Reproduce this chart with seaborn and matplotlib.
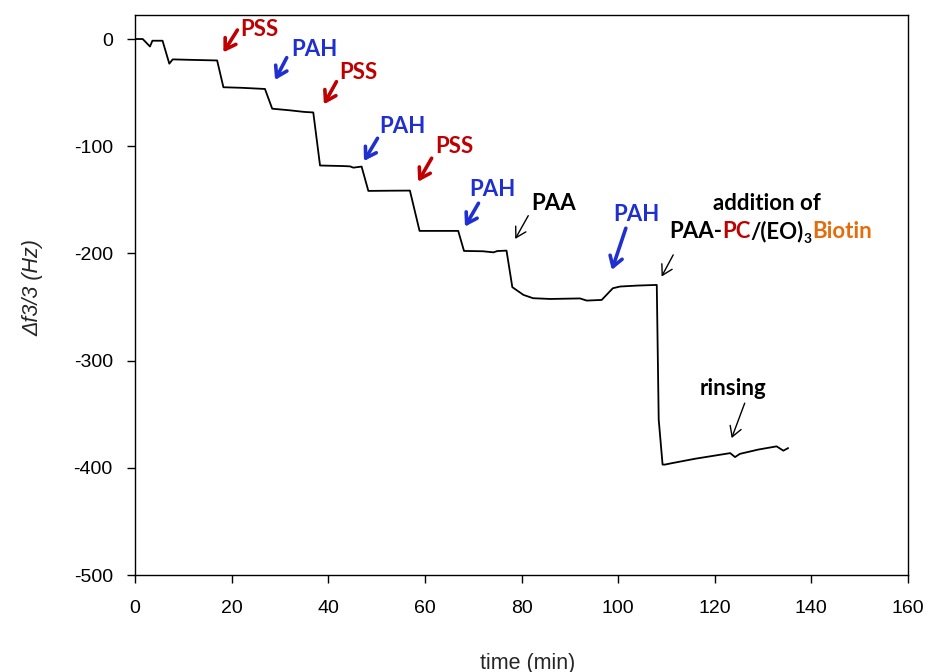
import matplotlib
matplotlib.use("Agg")
import matplotlib.pyplot as plt
import seaborn as sns
import pandas as pd

# ---- data ----
time_min = [0, 1.6, 3.1, 3.6, 5.7, 7.1, 7.8, 12, 17.0, 18.3, 22, 26.9, 28.4, 32, 35, 36.9,
            38.3, 43, 44.5, 45.2, 46.9, 48.3, 53, 56.9, 58.9, 62, 66.9, 68.1, 72, 74.2, 75,
            76.9, 78.1, 80.4, 82.4, 86, 92.1, 93.5, 96.6, 98.9, 100.4, 104, 108.0, 108.4,
            109.2, 109.7, 111.1, 116, 123.2, 124.2, 125.2, 129, 132.8, 134.2, 135.2]
delta_f = [0, 0, -7, -1.6, -1.6, -23, -19, -19.5, -20, -45, -45.5, -46.6, -65, -66.5, -68, -68.5,
           -118, -118.5, -118.8, -120, -119, -141.7, -141.5, -141.4, -179, -179, -179, -197.7, -198, -199, -197.8,
           -197.4, -231.5, -238.7, -241.8, -242.5, -242, -244, -243.4, -232.5, -230.9, -230, -229.4, -355,
           -397, -397, -395.7, -391.5, -386.3, -390, -387, -383, -380, -384, -381.6]

x_ticks = [0, 20, 40, 60, 80, 100, 120, 140, 160]
y_ticks = [0, -100, -200, -300, -400, -500]

# annotation labels: (text, colour, text pos, arrow tail, arrow head, heavy)
RED = "#C00000"
BLUE = "#1F2FD0"
ORANGE = "#E46C0A"
labels = [
    ("PSS", RED, (21.7, 9.3), (21.2, 8.4), (18.3, -12.4), True),
    ("PAH", BLUE, (32.3, -9.6), (31.4, -17.4), (29.0, -38.2), True),
    ("PSS", RED, (42.3, -31.0), (41.7, -39.8), (39.1, -60.9), True),
    ("PAH", BLUE, (50.6, -81.8), (50.2, -92.6), (47.4, -113.8), True),
    ("PSS", RED, (62.1, -100.4), (61.4, -111.2), (58.6, -133.1), True),
    ("PAH", BLUE, (69.2, -140.8), (71.1, -153.2), (68.3, -175.0), True),
    ("PAA", "black", (82.1, -153.2), (81.4, -164.8), (78.7, -186.5), False),
    ("PAH", BLUE, (99.0, -164.1), (101.6, -176.5), (98.7, -215.4), True),
]

sns.set_theme(style="white")
plt.rcParams["font.family"] = ["Liberation Sans", "DejaVu Sans"]
plt.rcParams["axes.unicode_minus"] = False

fig = plt.figure(figsize=(9.28, 6.72), dpi=100)
ax = fig.add_axes([135 / 928, 1 - 575 / 672, (908 - 135) / 928, (575 - 15) / 672])

df = pd.DataFrame({"time": time_min, "df": delta_f})
sns.lineplot(data=df, x="time", y="df", ax=ax, color="black", lw=1.3, sort=False,
             estimator=None)

ax.set_xlim(0, 160)
ax.set_ylim(-500, 22.4)
ax.set_xticks(x_ticks)
ax.set_yticks(y_ticks)
ax.tick_params(axis="both", which="both", direction="out", length=6, width=1,
               labelsize=14, colors="black", bottom=True, left=True, top=False, right=False)
ax.tick_params(axis="x", pad=12)
ax.tick_params(axis="y", pad=10)
for s in ax.spines.values():
    s.set_color("black")
    s.set_linewidth(1.0)

ax.set_xlabel("time (min)", fontsize=15.5)
ax.set_ylabel("Δf3/3 (Hz)", fontsize=15.5, style="italic")
ax.xaxis.set_label_coords(0.508, -0.139)
ax.yaxis.set_label_coords(-0.118, 0.514)

afont = dict(family=["Lato", "DejaVu Sans"], weight="bold", fontsize=16)

for txt, col, tpos, tail, head, heavy in labels:
    ax.text(tpos[0], tpos[1], txt, color=col, ha="left", va="center", **afont)
    if heavy:
        props = dict(arrowstyle="->,head_length=0.6,head_width=0.38", color=col, lw=2.6,
                     shrinkA=0, shrinkB=0)
    else:
        props = dict(arrowstyle="->,head_length=0.6,head_width=0.35", color=col, lw=1.0,
                     shrinkA=0, shrinkB=0)
    ax.annotate("", xy=head, xytext=tail, arrowprops=props)

# addition of PAA-PC/(EO)3Biotin
ax.text(130.8, -153.2, "addition of", color="black", ha="center", va="center", **afont)
p1 = ax.text(110.6, -179.7, "PAA-", color="black", ha="left", va="center", **afont)
p2 = ax.annotate("PC", xy=(1, 0), xycoords=p1, ha="left", va="bottom", color=RED, **afont)
p3 = ax.annotate("/(EO)", xy=(1, 0), xycoords=p2, ha="left", va="bottom", color="black", **afont)
p4 = ax.annotate("3", xy=(1, 0), xycoords=p3, xytext=(0, -2), textcoords="offset points",
                 ha="left", va="bottom", color="black", family=["Lato", "DejaVu Sans"],
                 weight="bold", fontsize=10)
p5 = ax.annotate("Biotin", xy=(1, 0), xycoords=(p4, p3), ha="left", va="bottom",
                 color=ORANGE, **afont)
ax.annotate("", xy=(109.0, -221.6), xytext=(111.4, -201.4),
            arrowprops=dict(arrowstyle="->,head_length=0.6,head_width=0.35", color="black",
                            lw=1.0, shrinkA=0, shrinkB=0))

# rinsing
ax.text(123.8, -325.7, "rinsing", color="black", ha="center", va="center", **afont)
ax.annotate("", xy=(123.5, -372.3), xytext=(126.2, -339.7),
            arrowprops=dict(arrowstyle="->,head_length=0.6,head_width=0.35", color="black",
                            lw=1.0, shrinkA=0, shrinkB=0))

fig.savefig("out.png", dpi=100)
